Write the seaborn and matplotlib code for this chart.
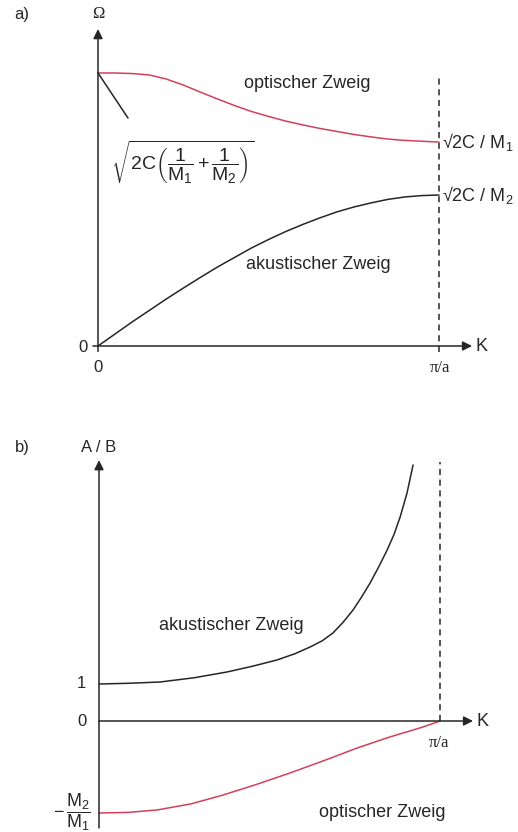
import matplotlib
matplotlib.use("Agg")
import matplotlib.pyplot as plt
import seaborn as sns
import pandas as pd

# Panel a: dispersion relation, K in units of pi/a, Omega normalised to the optical value at K = 0
a_opt_k = [0.0, 0.05, 0.10, 0.15, 0.20, 0.25, 0.30, 0.35, 0.40, 0.45, 0.50,
           0.55, 0.60, 0.65, 0.70, 0.75, 0.80, 0.85, 0.90, 0.95, 1.0]
a_opt_w = [1.000, 1.000, 0.998, 0.993, 0.978, 0.956, 0.930, 0.905, 0.881, 0.859, 0.841,
           0.824, 0.810, 0.797, 0.786, 0.775, 0.766, 0.758, 0.753, 0.750, 0.747]
a_ac_k = [0.0, 0.05, 0.10, 0.15, 0.20, 0.25, 0.30, 0.35, 0.40, 0.45, 0.50,
          0.55, 0.60, 0.65, 0.70, 0.75, 0.80, 0.85, 0.90, 0.95, 1.0]
a_ac_w = [0.0, 0.044, 0.088, 0.130, 0.172, 0.212, 0.251, 0.289, 0.324, 0.359, 0.390,
          0.419, 0.445, 0.469, 0.491, 0.509, 0.524, 0.537, 0.546, 0.551, 0.553]

# Panel b: amplitude ratio A/B
b_ac_k = [0.0, 0.09, 0.179, 0.28, 0.375, 0.45, 0.522, 0.575, 0.619, 0.655, 0.686, 0.716,
          0.745, 0.77, 0.795, 0.82, 0.845, 0.865, 0.883, 0.903, 0.921]
b_ac_r = [1.0, 1.02, 1.054, 1.17, 1.324, 1.48, 1.649, 1.82, 2.0, 2.17, 2.378, 2.67,
          3.0, 3.35, 3.73, 4.16, 4.62, 5.04, 5.51, 6.15, 6.92]
b_opt_k = [0.0, 0.085, 0.170, 0.27, 0.364, 0.46, 0.560, 0.66, 0.757, 0.85, 0.950, 1.0]
b_opt_r = [-2.486, -2.47, -2.405, -2.24, -2.0, -1.72, -1.405, -1.07, -0.730, -0.44, -0.162, 0.0]

branch_labels = ["optischer Zweig", "akustischer Zweig"]

sns.set_theme(style="white")
plt.rcParams["font.family"] = ["Liberation Sans", "DejaVu Sans"]
plt.rcParams["mathtext.fontset"] = "custom"
plt.rcParams["mathtext.rm"] = "Liberation Sans"
plt.rcParams["mathtext.it"] = "Liberation Sans"
plt.rcParams["mathtext.bf"] = "Liberation Sans:bold"

INK = "#262626"
RED = "#d2405a"
FS = 13
W, H = 518, 832

fig = plt.figure(figsize=(W / 100, H / 100), dpi=100)
fig.patch.set_facecolor("white")

# pixel frames for the two panels; data coordinates follow from an origin and a scale
def make_ax(top, bottom, x0, sx, y0, sy):
    ax = fig.add_axes([0, 1 - bottom / H, 1, (bottom - top) / H])
    ax.set_xlim((0 - x0) / sx, (W - x0) / sx)
    ax.set_ylim((y0 - bottom) / sy, (y0 - top) / sy)
    ax.axis("off")
    return ax

def arrow(ax, start, end):
    ax.annotate("", xy=end, xytext=start,
                arrowprops=dict(arrowstyle="-|>", lw=1.1, color=INK,
                                mutation_scale=14, shrinkA=0, shrinkB=0))

# ---------------- panel a ----------------
axa = make_ax(0, 400, 98, 341, 346, 273)
df_a_opt = pd.DataFrame({"K": a_opt_k, "Omega": a_opt_w})
df_a_ac = pd.DataFrame({"K": a_ac_k, "Omega": a_ac_w})
sns.lineplot(data=df_a_opt, x="K", y="Omega", ax=axa, color=RED, lw=1.1,
             sort=False, estimator=None)
sns.lineplot(data=df_a_ac, x="K", y="Omega", ax=axa, color=INK, lw=1.1,
             sort=False, estimator=None)
axa.axis("off")

arrow(axa, (-0.015, 0), (1.097, 0))
arrow(axa, (0, -0.02), (0, 1.161))
axa.plot([1, 1], [-0.022, 0.996], color=INK, lw=1.1, ls=(0, (4, 3)))
axa.plot([0, 0.088], [1.0, 0.835], color=INK, lw=1.1)

axa.text(-0.223, 1.216, "a)", fontsize=FS - 1, color=INK, ha="center", va="center")
axa.text(0, 1.216, "Ω", fontsize=FS - 1, color=INK, ha="center", va="center",
         family=["Liberation Serif", "DejaVu Serif"])
axa.text(-0.044, -0.005, "0", fontsize=FS - 1, color=INK, ha="center", va="center")
axa.text(0, -0.077, "0", fontsize=FS - 1, color=INK, ha="center", va="center")
axa.text(1.003, -0.081, "π/a", fontsize=FS - 1, color=INK, ha="center", va="center",
         family=["Liberation Serif", "DejaVu Serif"])
axa.text(1.108, 0, "K", fontsize=FS, color=INK, ha="left", va="center")
axa.text(0.613, 0.963, branch_labels[0], fontsize=FS, color=INK, ha="center", va="center")
axa.text(0.645, 0.297, branch_labels[1], fontsize=FS, color=INK, ha="center", va="center")
axa.text(0.249, 0.674, r"$\sqrt{2C\left(\dfrac{1}{M_1}+\dfrac{1}{M_2}\right)}$",
         fontsize=14, color=INK, ha="center", va="center")
axa.text(1.009, 0.747, r"√2C / M$_1$", fontsize=FS, color=INK, ha="left", va="center")
axa.text(1.009, 0.553, r"√2C / M$_2$", fontsize=FS, color=INK, ha="left", va="center")

# ---------------- panel b ----------------
axb = make_ax(400, 832, 99, 341, 721, 37)
df_b_ac = pd.DataFrame({"K": b_ac_k, "ratio": b_ac_r})
df_b_opt = pd.DataFrame({"K": b_opt_k, "ratio": b_opt_r})
sns.lineplot(data=df_b_ac, x="K", y="ratio", ax=axb, color=INK, lw=1.1,
             sort=False, estimator=None)
sns.lineplot(data=df_b_opt, x="K", y="ratio", ax=axb, color=RED, lw=1.1,
             sort=False, estimator=None)
axb.axis("off")

arrow(axb, (0, 0), (1.097, 0))
arrow(axb, (0, -2.89), (0, 7.05))
axb.plot([1, 1], [0, 7.0], color=INK, lw=1.1, ls=(0, (4, 3)))

axb.text(-0.226, 7.38, "b)", fontsize=FS - 1, color=INK, ha="center", va="center")
axb.text(0, 7.38, "A / B", fontsize=FS - 1, color=INK, ha="center", va="center")
axb.text(-0.051, 1.0, "1", fontsize=FS - 1, color=INK, ha="center", va="center")
axb.text(-0.051, 0.0, "0", fontsize=FS - 1, color=INK, ha="center", va="center")
axb.text(0.997, -0.59, "π/a", fontsize=FS - 1, color=INK, ha="center", va="center",
         family=["Liberation Serif", "DejaVu Serif"])
axb.text(1.108, 0, "K", fontsize=FS, color=INK, ha="left", va="center")
axb.text(-0.026, -2.46, r"$-\,\dfrac{M_2}{M_1}$", fontsize=13, color=INK,
         ha="right", va="center")
axb.text(0.387, 2.59, branch_labels[1], fontsize=FS, color=INK, ha="center", va="center")
axb.text(0.830, -2.46, branch_labels[0], fontsize=FS, color=INK, ha="center", va="center")

fig.savefig("out.png", dpi=100, facecolor="white")
